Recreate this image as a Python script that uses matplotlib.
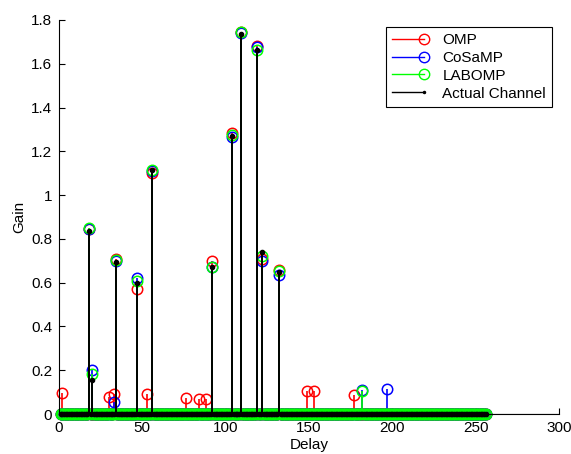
import numpy as np
import matplotlib
matplotlib.use('Agg')
import matplotlib.pyplot as plt
from matplotlib.lines import Line2D
from matplotlib.legend_handler import HandlerBase
from matplotlib.ticker import FuncFormatter

plt.rcParams['font.family'] = ['Liberation Sans', 'DejaVu Sans']
plt.rcParams['font.size'] = 11

# 256 delay taps
delay = np.arange(1, 257)

# non-zero taps of each estimate (delay, gain)
omp_idx = [2, 18, 30, 33, 34, 47, 53, 56, 76, 84, 88, 92, 104, 109, 119, 122, 132, 149, 153, 177]
omp_val = [0.094, 0.845, 0.078, 0.09, 0.71, 0.57, 0.09, 1.10, 0.073, 0.067, 0.067, 0.70,
           1.285, 1.745, 1.68, 0.71, 0.66, 0.107, 0.105, 0.087]

cosamp_idx = [18, 20, 33, 34, 47, 56, 92, 104, 109, 119, 122, 132, 182, 197]
cosamp_val = [0.845, 0.20, 0.055, 0.70, 0.62, 1.11, 0.67, 1.265, 1.74, 1.675, 0.70, 0.635, 0.11, 0.114]

labomp_idx = [18, 20, 34, 47, 56, 92, 104, 109, 119, 122, 132, 182]
labomp_val = [0.85, 0.185, 0.705, 0.61, 1.115, 0.67, 1.275, 1.745, 1.665, 0.72, 0.655, 0.107]

actual_idx = [18, 20, 34, 47, 56, 92, 104, 109, 119, 122, 132]
actual_val = [0.835, 0.155, 0.695, 0.60, 1.115, 0.672, 1.27, 1.735, 1.665, 0.74, 0.65]


def full(idx, val):
    g = np.zeros(len(delay))
    g[np.array(idx) - 1] = val
    return g


class EndMarkerHandler(HandlerBase):
    # line with the marker on its right end (matlab style legend)
    def create_artists(self, legend, orig_handle, xdescent, ydescent, width, height, fontsize, trans):
        y = (height - ydescent) / 2
        x0, x1 = -xdescent, -xdescent + width
        line = Line2D([x0, x1], [y, y], color=orig_handle.get_color(),
                      linewidth=orig_handle.get_linewidth(), transform=trans)
        mk = Line2D([x1], [y], linestyle='none', marker=orig_handle.get_marker(),
                    markersize=orig_handle.get_markersize(),
                    markerfacecolor=orig_handle.get_markerfacecolor(),
                    markeredgecolor=orig_handle.get_markeredgecolor(),
                    markeredgewidth=orig_handle.get_markeredgewidth(), transform=trans)
        return [line, mk]


fig = plt.figure(figsize=(5.71, 4.54), dpi=100)
ax = fig.add_axes([0.1033, 0.088, 0.8757, 0.868])

series = [
    (full(omp_idx, omp_val), (1, 0, 0)),
    (full(cosamp_idx, cosamp_val), (0, 0, 1)),
    (full(labomp_idx, labomp_val), (0, 1, 0)),
]
for g, c in series:
    ml, sl, bl = ax.stem(delay, g, basefmt=' ')
    plt.setp(sl, color=c, linewidth=1.2)
    plt.setp(ml, color=c, marker='o', markerfacecolor='none', markersize=7.5,
             markeredgewidth=1.1, clip_on=False)

ml, sl, bl = ax.stem(delay, full(actual_idx, actual_val), basefmt=' ')
plt.setp(sl, color='k', linewidth=1.4)
plt.setp(ml, color='k', marker='.', markersize=6, clip_on=False)

ax.axhline(0, color='k', linewidth=0.8, zorder=1)

ax.set_xlim(0, 300)
ax.set_ylim(0, 1.8)
ax.set_xticks(np.arange(0, 301, 50))
ax.set_yticks(np.arange(0, 1.81, 0.2))
ax.yaxis.set_major_formatter(FuncFormatter(lambda v, p: '%g' % round(v, 1)))
ax.spines['top'].set_visible(False)
ax.spines['right'].set_visible(False)
ax.tick_params(direction='in', length=4, labelsize=11, pad=5)
ax.set_xlabel('Delay', labelpad=2)
ax.set_ylabel('Gain', labelpad=3)

handles = [
    Line2D([], [], color='r', lw=1.0, marker='o', mfc='none', markersize=7.5),
    Line2D([], [], color='b', lw=1.0, marker='o', mfc='none', markersize=7.5),
    Line2D([], [], color=(0, 1, 0), lw=1.0, marker='o', mfc='none', markersize=7.5),
    Line2D([], [], color='k', lw=1.0, marker='.', markersize=3),
]
labels = ['OMP', 'CoSaMP', 'LABOMP', 'Actual Channel']
leg = ax.legend(handles, labels, loc='upper right', bbox_to_anchor=(0.986, 0.982),
                borderaxespad=0,
                handler_map={Line2D: EndMarkerHandler()},
                fancybox=False, framealpha=1, edgecolor='k', handlelength=2.1,
                handletextpad=1.2, borderpad=0.4, labelspacing=0.25)
leg.get_frame().set_linewidth(0.8)

fig.savefig('out.png', dpi=100)
